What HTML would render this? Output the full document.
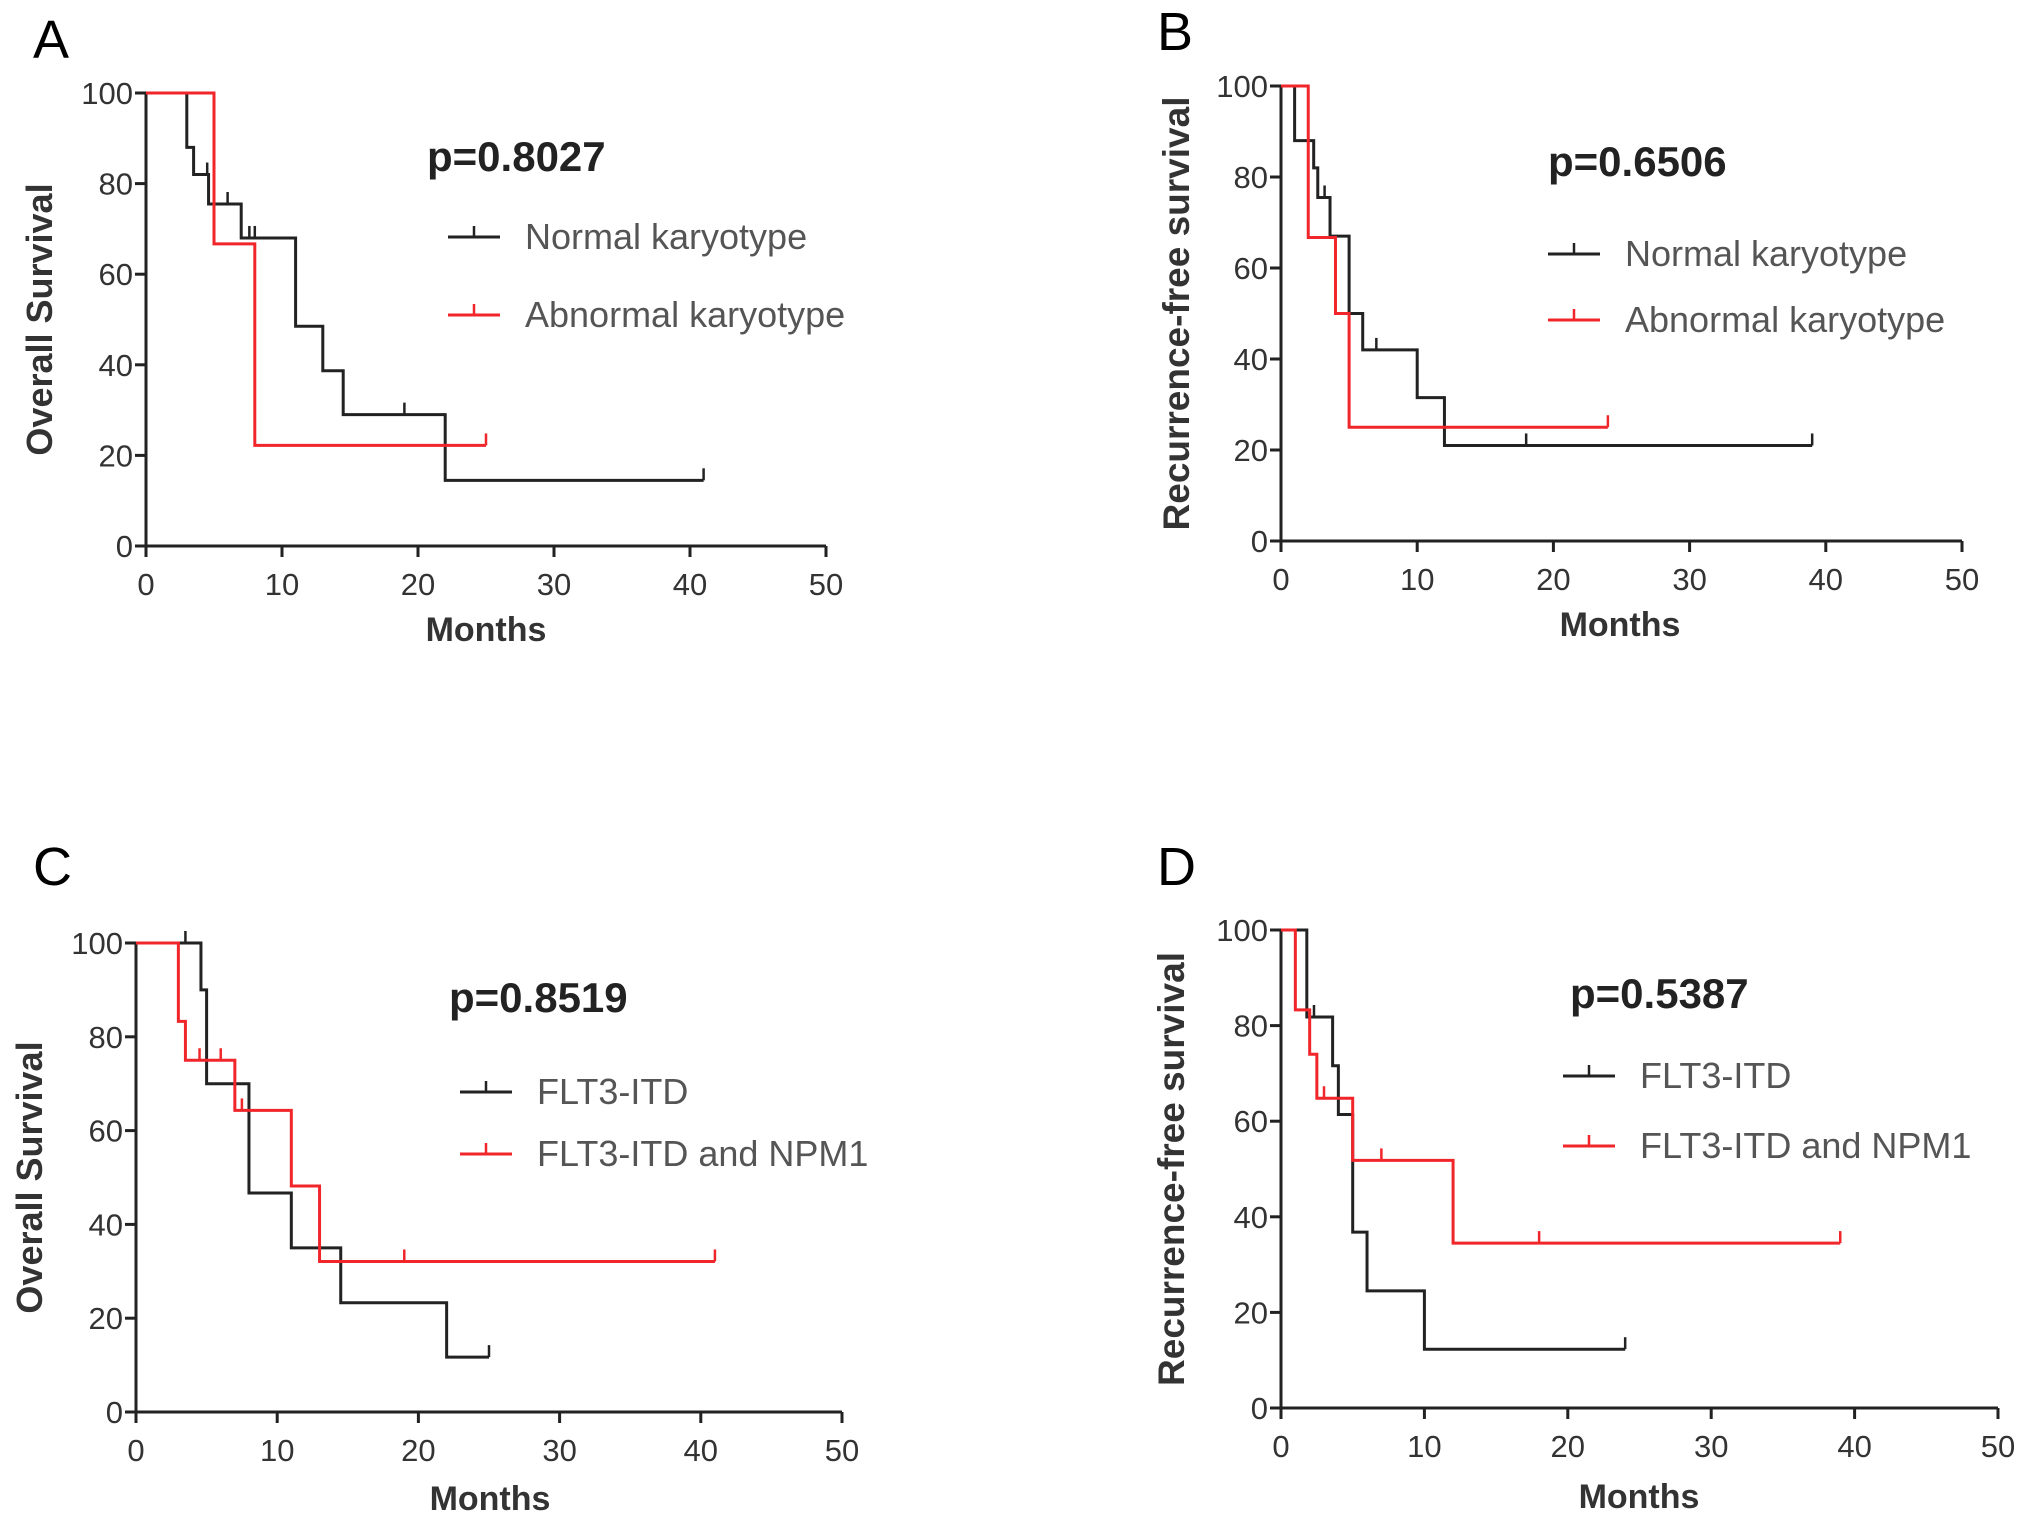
<!DOCTYPE html>
<html><head><meta charset="utf-8"><style>
html,body{margin:0;padding:0;background:#fff;}
svg{display:block;}
text{font-family:"Liberation Sans",sans-serif;}
</style></head><body>
<svg id="fig" width="2031" height="1526" viewBox="0 0 2031 1526" xmlns="http://www.w3.org/2000/svg"></svg>
<script>
// ---- data ----
const xTicks = [0,10,20,30,40,50];
const yTicks = [0,20,40,60,80,100];
// Panel A
const aBlackT = [3,3.5,4.6,7,11,13,14.5,22];
const aBlackS = [88,82,75.5,68,48.5,38.7,29,14.5];
const aBlackC = [4.5,6,7.6,8,19];
const aBlackEnd = 41;
const aRedT = [5,8];
const aRedS = [66.7,22.2];
const aRedC = [];
const aRedEnd = 25;
// Panel B
const bBlackT = [1,2.4,2.7,3.6,5,6,10,12];
const bBlackS = [88,82,75.5,67,50,42,31.5,21];
const bBlackC = [3.2,7,18];
const bBlackEnd = 39;
const bRedT = [2,4,5];
const bRedS = [66.7,50,25];
const bRedC = [];
const bRedEnd = 24;
// Panel C
const cBlackT = [4.6,5,8,11,14.5,22];
const cBlackS = [90,70,46.7,35,23.3,11.7];
const cBlackC = [3.5];
const cBlackEnd = 25;
const cRedT = [3,3.5,7,11,13];
const cRedS = [83.3,75,64.3,48.2,32.1];
const cRedC = [4.5,6,7.5,19];
const cRedEnd = 41;
// Panel D
const dBlackT = [1.8,3.6,4,5,6,10];
const dBlackS = [81.8,71.6,61.4,36.8,24.5,12.3];
const dBlackC = [2.3];
const dBlackEnd = 24;
const dRedT = [1,2,2.5,5,12];
const dRedS = [83.3,74,64.8,51.8,34.5];
const dRedC = [3,7,18];
const dRedEnd = 39;

const NS = "http://www.w3.org/2000/svg";
const svg = document.getElementById('fig');
function mk(tag, attrs, parent, txt){
  const e = document.createElementNS(NS, tag);
  for (const k in attrs) e.setAttribute(k, attrs[k]);
  if (txt !== undefined) e.textContent = txt;
  (parent||svg).appendChild(e);
  return e;
}
const panels = [
 {id:'a', letter:'A', lx:33, ly:58, x0:146, x1:826, y0:546, y1:93, ytitle:'Overall Survival', yfs:36, ytx:40, p:'p=0.8027', px:427, py:171,
  legend:['Normal karyotype','Abnormal karyotype'], lgx:448, lgy:[237,315], mx:486, my:641,
  series:[[aBlackT,aBlackS,aBlackC,aBlackEnd,'#222'],[aRedT,aRedS,aRedC,aRedEnd,'#f0262a']]},
 {id:'b', letter:'B', lx:1157, ly:50, x0:1281, x1:1962, y0:541, y1:86, ytitle:'Recurrence-free survival', yfs:37, ytx:1177, p:'p=0.6506', px:1548, py:176,
  legend:['Normal karyotype','Abnormal karyotype'], lgx:1548, lgy:[254,320], mx:1620, my:636,
  series:[[bBlackT,bBlackS,bBlackC,bBlackEnd,'#222'],[bRedT,bRedS,bRedC,bRedEnd,'#f0262a']]},
 {id:'c', letter:'C', lx:33, ly:885, x0:136, x1:842, y0:1412, y1:943, ytitle:'Overall Survival', yfs:36, ytx:30, p:'p=0.8519', px:449, py:1012,
  legend:['FLT3-ITD','FLT3-ITD and NPM1'], lgx:460, lgy:[1092,1154], mx:490, my:1510,
  series:[[cBlackT,cBlackS,cBlackC,cBlackEnd,'#222'],[cRedT,cRedS,cRedC,cRedEnd,'#f0262a']]},
 {id:'d', letter:'D', lx:1157, ly:885, x0:1281, x1:1998, y0:1408, y1:930, ytitle:'Recurrence-free survival', yfs:37, ytx:1172, p:'p=0.5387', px:1570, py:1008,
  legend:['FLT3-ITD','FLT3-ITD and NPM1'], lgx:1563, lgy:[1076,1146], mx:1639, my:1508,
  series:[[dBlackT,dBlackS,dBlackC,dBlackEnd,'#222'],[dRedT,dRedS,dRedC,dRedEnd,'#f0262a']]}
];
panels.forEach(P=>{
  const g = mk('g',{});
  
  
  const X = v => P.x0 + (P.x1-P.x0)*v/50;
  const Y = v => P.y0 - (P.y0-P.y1)*v/100;
  const L = mk('text',{x:P.lx,y:P.ly,'font-size':54,fill:'#000'},g,P.letter);
  
  
  const ax = mk('path',{d:`M${P.x0},${P.y1}V${P.y0}H${P.x1}`,stroke:'#222','stroke-width':3,fill:'none'},g);
  
  
  xTicks.forEach(t=>{
    mk('line',{x1:X(t),x2:X(t),y1:P.y0,y2:P.y0+11,stroke:'#222','stroke-width':3},g);
    const tl = mk('text',{x:X(t),y:P.y0+49,'font-size':31,'text-anchor':'middle',fill:'#333'},g,String(t));
    
    
  });
  yTicks.forEach(t=>{
    mk('line',{x1:P.x0-11,x2:P.x0,y1:Y(t),y2:Y(t),stroke:'#222','stroke-width':3},g);
    const tl = mk('text',{x:P.x0-13,y:Y(t)+11,'font-size':31,'text-anchor':'end',fill:'#333'},g,String(t));
    
    
  });
  const yc = (P.y0+P.y1)/2;
  const yt = mk('text',{x:P.ytx,y:yc,'font-size':P.yfs,'font-weight':'bold','text-anchor':'middle',fill:'#333',transform:`rotate(-90 ${P.ytx} ${yc})`,dy:12},g,P.ytitle);
  
  
  const mt = mk('text',{x:P.mx,y:P.my,'font-size':34,'font-weight':'bold','text-anchor':'middle',fill:'#333'},g,'Months');
  
  
  const pt = mk('text',{x:P.px,y:P.py,'font-size':42,'font-weight':'bold',fill:'#222'},g,P.p);
  
  
  P.series.forEach((s,i)=>{
    const [T,S,C,end,col] = s;
    let d = `M${X(0)},${Y(100)}`;
    T.forEach((t,k)=>{ d += `H${X(t)}V${Y(S[k])}`; });
    d += `H${X(end)}`;
    const p = mk('path',{d:d,stroke:col,'stroke-width':3,fill:'none'},g);
    
    
    const sv = t => { let v=100; T.forEach((tt,k)=>{ if (tt<=t) v=S[k]; }); return v; };
    C.concat([end]).forEach(c=>{
      const v = sv(c);
      const cm = mk('line',{x1:X(c),x2:X(c),y1:Y(v),y2:Y(v)-12,stroke:col,'stroke-width':2.5},g);
      
      
    });
    const ly = P.lgy[i];
    const lg = mk('g',{},g);
    
    
    mk('line',{x1:P.lgx,x2:P.lgx+52,y1:ly,y2:ly,stroke:col,'stroke-width':3},lg);
    mk('line',{x1:P.lgx+26,x2:P.lgx+26,y1:ly,y2:ly-11,stroke:col,'stroke-width':2.5},lg);
    mk('text',{x:P.lgx+77,y:ly+12,'font-size':36,fill:'#555'},lg,P.legend[i]);
  });
});
</script>
</body></html>
